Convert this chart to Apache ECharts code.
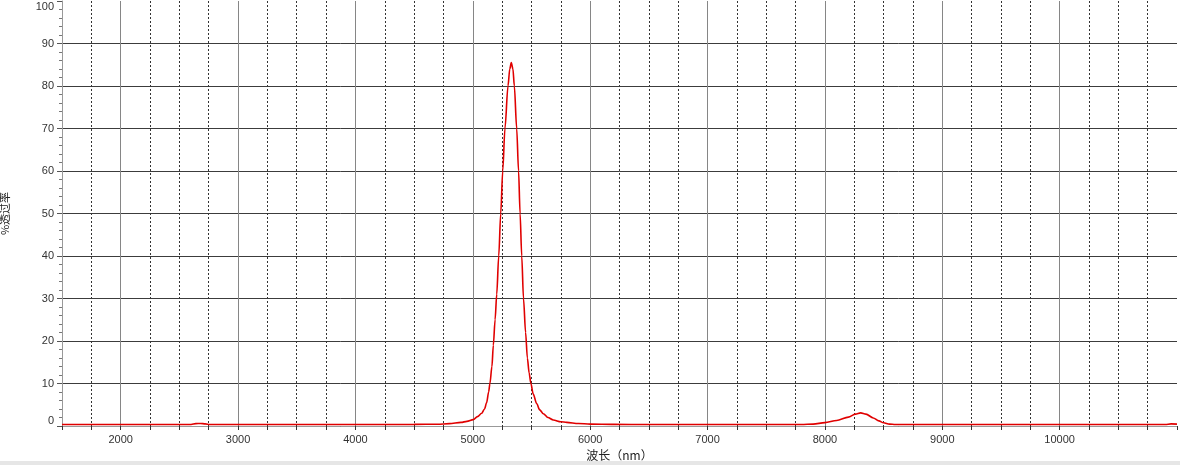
<!DOCTYPE html>
<html>
<head>
<meta charset="utf-8">
<script src="https://cdn.jsdelivr.net/npm/echarts@6/dist/echarts.min.js"></script>
<style>
html,body{margin:0;padding:0;background:#fff;}
#chart{width:1180px;height:465px;}
</style>
</head>
<body>
<div id="chart"></div>
<script>
// Wavelength (nm) and transmittance (%)
const wavelengths = [1500, 2000, 2500, 2600, 2640, 2680, 2720, 2760, 3000, 3500, 4000, 4500, 4700, 4800, 4900, 4950,
  5004, 5040, 5076, 5100, 5118, 5135, 5146, 5163, 5175, 5190, 5204, 5221, 5238, 5255, 5274, 5300, 5315, 5328, 5342,
  5354, 5374, 5390, 5403, 5417, 5432, 5450, 5465, 5480, 5495, 5515, 5544, 5570, 5601, 5640, 5686, 5750, 5800, 5900,
  6000, 6200, 6500, 7000, 7500, 7800, 7900, 8000, 8100, 8200, 8260, 8305, 8350, 8412, 8460, 8500, 8550, 8600, 9000,
  9500, 10000, 10500, 10900, 10950, 11000];
const transmittance = [0.35, 0.35, 0.35, 0.35, 0.55, 0.6, 0.5, 0.35, 0.35, 0.35, 0.35, 0.38, 0.42, 0.55, 0.85, 1.1,
  1.5, 2.2, 3.0, 4.0, 5.5, 8.0, 10, 14, 19, 25, 31, 40, 50, 60, 70, 80, 84, 85.5, 84,
  80, 70, 60, 50, 40, 30, 22, 16, 12.5, 10, 7.5, 5.3, 3.8, 2.9, 2.0, 1.4, 1.0, 0.85, 0.6,
  0.45, 0.38, 0.35, 0.35, 0.35, 0.35, 0.45, 0.8, 1.3, 2.1, 2.8, 3.1, 2.8, 1.9, 1.2, 0.75, 0.45, 0.35, 0.35,
  0.35, 0.35, 0.35, 0.35, 0.5, 0.45];
const xMajorTicks = [2000, 3000, 4000, 5000, 6000, 7000, 8000, 9000, 10000];
const xName = '波长（nm）';
const yName = '%透过率';

const seriesData = wavelengths.map((w, i) => [w, transmittance[i]]);
const labelFont = 'Liberation Sans, Arial, sans-serif';
const cjkFont = 'Noto Sans CJK SC, sans-serif';

const chart = echarts.init(document.getElementById('chart'), null, {renderer: 'canvas'});
chart.setOption({
  animation: false,
  backgroundColor: '#ffffff',
  grid: {left: 62, right: 3, top: 1, bottom: 39, containLabel: false, outerBoundsMode: 'none'},
  xAxis: {
    type: 'value', min: 1500, max: 11000, interval: 250,
    name: xName, nameLocation: 'middle', nameGap: 20,
    nameTextStyle: {fontFamily: cjkFont, fontSize: 12, color: '#222'},
    axisLine: {show: true, onZero: false, lineStyle: {color: '#999', width: 1}},
    axisTick: {show: true, length: 4, lineStyle: {color: '#333'}},
    axisLabel: {
      interval: 0, margin: 8, fontFamily: labelFont, fontSize: 11, color: '#333',
      formatter: v => (v % 1000 === 0 && v > 1500 && v < 11000) ? String(v) : ''
    },
    splitLine: {show: true, showMinLine: false, showMaxLine: false,
      lineStyle: {color: '#333', width: 1, type: [2, 2]}}
  },
  yAxis: {
    type: 'value', min: 0, max: 100, interval: 10,
    name: yName, nameLocation: 'middle', nameGap: 52,
    nameTextStyle: {fontFamily: cjkFont, fontSize: 11, color: '#222'},
    axisLine: {show: true, lineStyle: {color: '#999', width: 1}},
    axisTick: {show: true, length: 5, lineStyle: {color: '#555'}},
    minorTick: {show: true, splitNumber: 5, length: 3, lineStyle: {color: '#777'}},
    axisLabel: {
      margin: 8, fontFamily: labelFont, fontSize: 11, color: '#333',
      formatter: v => v === 100 ? '{dn|100}' : (v === 0 ? '{up|0}' : String(v)),
      rich: {
        dn: {padding: [12, 0, 0, 0], fontFamily: labelFont, fontSize: 11, color: '#333'},
        up: {padding: [0, 0, 10, 0], fontFamily: labelFont, fontSize: 11, color: '#333'}
      }
    },
    splitLine: {show: true, showMaxLine: false, lineStyle: {color: '#3c3c3c', width: 1}}
  },
  series: [
    {
      type: 'line', data: [], silent: true, z: 1,
      markLine: {
        silent: true, symbol: ['none', 'none'], animation: false,
        label: {show: false},
        lineStyle: {type: 'solid', color: '#868686', width: 1},
        emphasis: {disabled: true},
        data: xMajorTicks.map(v => ({xAxis: v}))
      }
    },
    {
      type: 'line', data: seriesData, z: 5,
      showSymbol: false, symbol: 'none',
      smooth: 0.3, smoothMonotone: 'x',
      lineStyle: {color: '#e00000', width: 1.6},
      itemStyle: {color: '#e00000'}
    }
  ],
  graphic: [
    {type: 'rect', left: 0, top: 461, shape: {width: 1180, height: 4}, style: {fill: '#e6e6e6'}, silent: true}
  ]
});
</script>
</body>
</html>
